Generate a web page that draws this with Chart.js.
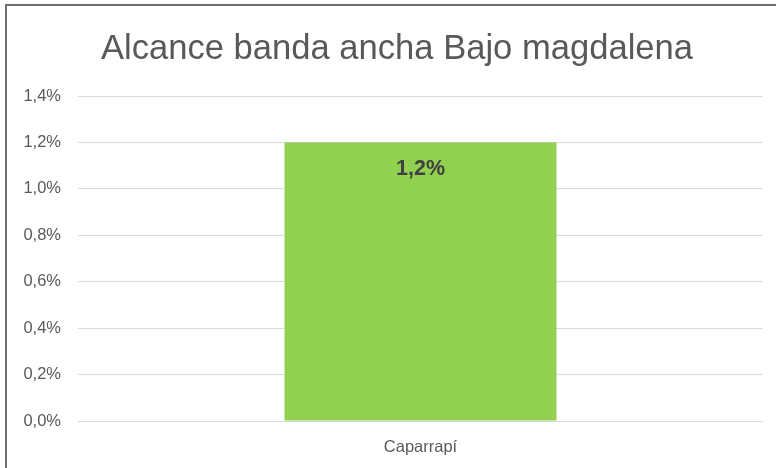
<!DOCTYPE html>
<html>
<head>
<meta charset="utf-8">
<script src="https://cdn.jsdelivr.net/npm/chart.js@4.4.0/dist/chart.umd.min.js"></script>
<style>
  html, body { margin: 0; padding: 0; background: #fff; }
  #wrap { position: relative; width: 776px; height: 468px; overflow: hidden; }
  #c { position: absolute; left: 0; top: 0; }
  #frame {
    position: absolute; left: 5px; top: 4px; width: 800px; height: 500px;
    border-top: 2px solid #6e6e6e; border-left: 2px solid #6e6e6e;
    pointer-events: none;
  }
</style>
</head>
<body>
<div id="wrap">
  <canvas id="c" width="776" height="468"></canvas>
  <div id="frame"></div>
</div>
<script>
const chartTitle = 'Alcance banda ancha Bajo magdalena';
const categories = ['Caparrapí'];
const alcance = [1.2]; // percent
const yMin = 0, yMax = 1.4, yStep = 0.2;

const pct = (v, d) => v.toFixed(d).replace('.', ',') + '%';

// title centred over the whole chart frame, plus value label inside the bar top
const excelText = {
    id: 'excelText',
    afterDraw(chart) {
        const ctx = chart.ctx;
        ctx.save();
        ctx.textAlign = 'center';
        ctx.textBaseline = 'middle';
        ctx.font = '34.6px "Liberation Sans", Arial, sans-serif';
        ctx.fillStyle = '#595959';
        ctx.fillText(chartTitle, 397, 49);

        ctx.font = 'bold 21.5px "Liberation Sans", Arial, sans-serif';
        ctx.fillStyle = '#404040';
        chart.getDatasetMeta(0).data.forEach((bar, i) => {
            ctx.fillText(pct(alcance[i], 1), bar.x, bar.y + 27);
        });
        ctx.restore();
    }
};

new Chart(document.getElementById('c'), {
    type: 'bar',
    data: {
        labels: categories,
        datasets: [{
            label: 'Alcance',
            data: alcance,
            backgroundColor: '#92D050',
            borderWidth: 0,
            categoryPercentage: 1,
            barPercentage: 0.397
        }]
    },
    options: {
        responsive: false,
        animation: false,
        layout: { padding: { left: 0, right: 13, top: 96, bottom: 0 } },
        scales: {
            x: {
                afterFit: (scale) => { scale.height = 47; },
                grid: { display: false, drawTicks: false },
                border: { display: false },
                ticks: {
                    color: '#595959',
                    padding: 17,
                    font: { family: '"Liberation Sans", Arial, sans-serif', size: 16.5 }
                }
            },
            y: {
                min: yMin,
                max: yMax,
                afterFit: (scale) => { scale.width = 78; },
                grid: { color: '#d9d9d9', lineWidth: 1, drawTicks: false },
                border: { display: false },
                ticks: {
                    stepSize: yStep,
                    color: '#595959',
                    padding: 17,
                    font: { family: '"Liberation Sans", Arial, sans-serif', size: 16.5 },
                    callback: (v) => pct(v, 1)
                }
            }
        },
        plugins: {
            legend: { display: false },
            tooltip: { enabled: false },
            title: { display: false }
        }
    },
    plugins: [excelText]
});
</script>
</body>
</html>
